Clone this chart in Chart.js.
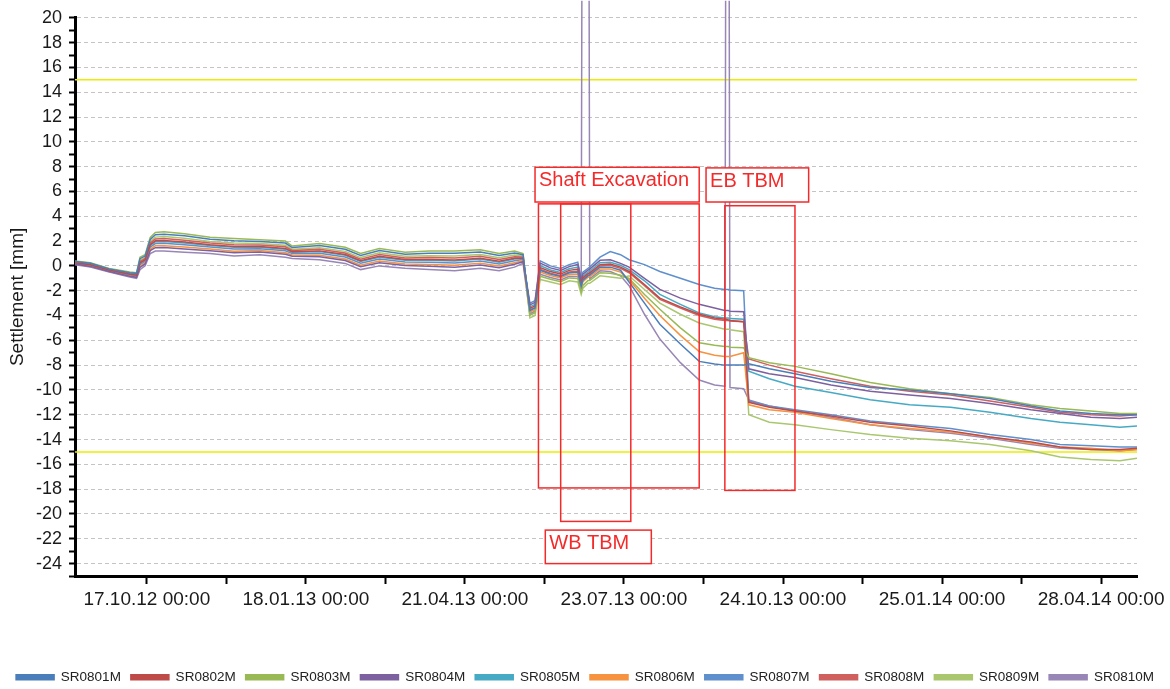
<!DOCTYPE html>
<html>
<head>
<meta charset="utf-8">
<script src="https://cdn.jsdelivr.net/npm/chart.js@4.4.1/dist/chart.umd.min.js"></script>
<style>
  html, body { margin: 0; padding: 0; background: #fff; }
</style>
</head>
<body>
<canvas id="chart" width="1170" height="689"></canvas>
<script>
// Reading dates (x) shared by all gauges
const dates = [
  '2012-09-05', '2012-09-14', '2012-09-25', '2012-10-07', '2012-10-11', '2012-10-13', '2012-10-16', '2012-10-19',
  '2012-10-22', '2012-10-27', '2012-11-08', '2012-11-23', '2012-12-07', '2012-12-22', '2013-01-06', '2013-01-10',
  '2013-01-26', '2013-02-10', '2013-02-19', '2013-03-02', '2013-03-17', '2013-03-31', '2013-04-15', '2013-04-30',
  '2013-05-11', '2013-05-20', '2013-05-25', '2013-05-29', '2013-06-01', '2013-06-04', '2013-06-10', '2013-06-16',
  '2013-06-21', '2013-06-26', '2013-06-28', '2013-06-29', '2013-07-02', '2013-07-03', '2013-07-09', '2013-07-15',
  '2013-07-21', '2013-07-26', '2013-08-04', '2013-08-13', '2013-08-25', '2013-09-05', '2013-09-14', '2013-09-20',
  '2013-09-21', '2013-09-22', '2013-09-23', '2013-10-01', '2013-10-04', '2013-10-16', '2013-10-31', '2013-11-21',
  '2013-12-14', '2014-01-06', '2014-01-30', '2014-02-22', '2014-03-18', '2014-04-04', '2014-04-22', '2014-05-09',
  '2014-05-19'
];

// Settlement [mm] per gauge
const sr0801 = [0.36, 0.21, -0.24, -0.55, -0.6, 0.58, 0.79, 2.14, 2.52, 2.56, 2.42, 2.14, 2.03, 1.96, 1.84, 1.48,
  1.64, 1.34, 0.84, 1.23, 0.94, 1.02, 1.01, 1.12, 0.83, 1.04, 0.9, -3.6, -3.4, -0.35, -0.65, -0.85,
  -0.55, -0.5, -1.65, -1.15, -0.8, -0.75, -0.1, -0.1, -0.35, -1.3, -3.0, -4.7, -6.3, -7.7, -7.9, -8.0,
  -8.0, -8.0, -8.0, -8.0, -7.9, -8.3, -8.7, -9.3, -9.8, -10.0, -10.3, -10.7, -11.3, -11.7, -11.9, -12.0, -12.0];
const sr0802 = [0.26, 0.09, -0.34, -0.68, -0.75, 0.25, 0.49, 1.71, 2.02, 2.05, 1.92, 1.71, 1.57, 1.56, 1.41, 1.15,
  1.21, 0.91, 0.41, 0.77, 0.51, 0.52, 0.48, 0.62, 0.37, 0.61, 0.64, -3.42, -3.22, -0.13, -0.46, -0.66,
  -0.36, -0.26, -1.46, -0.96, -0.62, -0.56, 0.1, 0.15, -0.1, -0.45, -1.5, -2.6, -3.3, -3.9, -4.2, -4.3,
  -4.3, -4.35, -4.4, -4.5, -11.0, -11.4, -11.7, -12.1, -12.6, -12.9, -13.3, -13.8, -14.2, -14.6, -14.8, -14.8, -14.7];
const sr0803 = [0.4, 0.25, -0.2, -0.5, -0.55, 0.7, 0.9, 2.3, 2.7, 2.75, 2.6, 2.3, 2.2, 2.1, 2.0, 1.6,
  1.8, 1.5, 1.0, 1.4, 1.1, 1.2, 1.2, 1.3, 1.0, 1.2, 1.0, -3.98, -3.78, -0.83, -1.07, -1.27,
  -0.97, -1.01, -2.07, -1.57, -1.18, -1.17, -0.55, -0.6, -0.75, -1.0, -2.3, -3.5, -5.0, -6.2, -6.4, -6.5,
  -6.5, -6.5, -6.55, -6.6, -7.4, -7.8, -8.1, -8.7, -9.4, -9.9, -10.3, -10.6, -11.2, -11.5, -11.7, -11.9, -11.9];
const sr0804 = [0.15, -0.04, -0.45, -0.83, -0.92, -0.12, 0.16, 1.23, 1.47, 1.48, 1.37, 1.23, 1.05, 1.12, 0.93, 0.78,
  0.73, 0.43, -0.07, 0.25, 0.03, -0.03, -0.11, 0.07, -0.15, 0.13, 0.34, -3.14, -2.94, 0.22, -0.16, -0.36,
  -0.06, 0.11, -1.16, -0.66, -0.34, -0.26, 0.45, 0.5, 0.2, -0.1, -1.0, -1.9, -2.6, -3.1, -3.4, -3.6,
  -3.6, -3.6, -3.65, -3.7, -8.3, -8.7, -9.0, -9.6, -10.1, -10.4, -10.7, -11.1, -11.6, -11.9, -12.2, -12.3, -12.2];
const sr0805 = [0.25, 0.07, -0.35, -0.7, -0.78, 0.2, 0.45, 1.65, 1.95, 1.97, 1.85, 1.65, 1.5, 1.5, 1.35, 1.1,
  1.15, 0.85, 0.35, 0.7, 0.45, 0.45, 0.4, 0.55, 0.3, 0.55, 0.6, -3.3, -3.1, 0.02, -0.33, -0.53,
  -0.23, -0.1, -1.33, -0.83, -0.5, -0.43, 0.25, 0.3, 0.05, -0.3, -1.2, -2.3, -3.1, -3.8, -4.1, -4.2,
  -4.2, -4.2, -4.25, -4.3, -8.5, -9.1, -9.7, -10.2, -10.8, -11.2, -11.4, -11.8, -12.3, -12.6, -12.8, -13.0, -12.9];
const sr0806 = [0.18, 0.0, -0.42, -0.79, -0.87, -0.02, 0.25, 1.36, 1.62, 1.63, 1.52, 1.36, 1.19, 1.24, 1.06, 0.88,
  0.86, 0.56, 0.06, 0.39, 0.16, 0.12, 0.05, 0.22, -0.01, 0.26, 0.42, -3.72, -3.52, -0.5, -0.78, -0.98,
  -0.68, -0.66, -1.78, -1.28, -0.92, -0.88, -0.25, -0.25, -0.5, -1.1, -2.6, -4.0, -5.6, -6.9, -7.2, -7.3,
  -7.3, -7.3, -7.3, -7.0, -11.2, -11.6, -11.8, -12.3, -12.8, -13.1, -13.4, -13.8, -14.3, -14.6, -14.7, -14.9, -14.8];
const sr0807 = [0.22, 0.04, -0.38, -0.74, -0.82, 0.1, 0.36, 1.52, 1.8, 1.82, 1.7, 1.52, 1.36, 1.38, 1.22, 1.0,
  1.02, 0.72, 0.22, 0.56, 0.32, 0.3, 0.24, 0.4, 0.16, 0.42, 0.52, -3.0, -2.8, 0.4, 0.0, -0.2,
  0.1, 0.3, -1.0, -0.5, -0.2, -0.1, 0.7, 1.15, 0.9, 0.5, 0.1, -0.45, -1.0, -1.5, -1.8, -1.9,
  -1.9, -1.9, -1.95, -2.0, -10.9, -11.3, -11.6, -12.0, -12.5, -12.8, -13.1, -13.6, -14.0, -14.4, -14.5, -14.6, -14.6];
const sr0808 = [0.3, 0.13, -0.3, -0.64, -0.71, 0.35, 0.58, 1.84, 2.17, 2.21, 2.07, 1.84, 1.71, 1.68, 1.54, 1.25,
  1.34, 1.04, 0.54, 0.91, 0.64, 0.67, 0.64, 0.77, 0.51, 0.74, 0.72, -3.54, -3.34, -0.28, -0.59, -0.79,
  -0.49, -0.42, -1.59, -1.09, -0.74, -0.69, 0.0, 0.05, -0.2, -0.55, -1.6, -2.7, -3.4, -4.0, -4.3, -4.4,
  -4.4, -4.4, -4.45, -4.5, -7.5, -8.0, -8.5, -9.1, -9.7, -10.1, -10.4, -10.9, -11.4, -11.8, -12.0, -12.1, -12.0];
const sr0809 = [0.32, 0.16, -0.28, -0.6, -0.66, 0.45, 0.67, 1.97, 2.32, 2.36, 2.22, 1.97, 1.85, 1.8, 1.67, 1.35,
  1.47, 1.17, 0.67, 1.05, 0.77, 0.82, 0.8, 0.92, 0.65, 0.87, 0.8, -4.2, -4.0, -1.1, -1.3, -1.5,
  -1.2, -1.3, -2.3, -1.8, -1.4, -1.4, -0.8, -0.9, -1.0, -0.8, -1.9, -3.0, -3.9, -4.6, -4.9, -5.1,
  -5.1, -5.1, -5.15, -5.3, -12.0, -12.6, -12.8, -13.2, -13.6, -13.9, -14.1, -14.4, -14.9, -15.4, -15.6, -15.7, -15.5];
const sr0810 = [0.1, -0.1, -0.5, -0.9, -1.0, -0.3, 0.0, 1.0, 1.2, 1.2, 1.1, 1.0, 0.8, 0.9, 0.7, 0.6,
  0.5, 0.2, -0.3, 0.0, -0.2, -0.3, -0.4, -0.2, -0.4, -0.1, 0.2, -3.86, -3.66, -0.68, -0.94, -1.14,
  -0.84, -0.85, -1.94, 60, 60, -1.04, -0.4, -0.45, -0.8, -1.6, -3.9, -5.9, -7.8, -9.2, -9.6, -9.7,
  60, 60, -9.8, -9.9, -10.8, -11.3, -11.7, -12.2, -12.8, -13.2, -13.5, -13.9, -14.4, -14.7, -14.8, -14.9, -14.8];

const seriesNames = ['SR0801M', 'SR0802M', 'SR0803M', 'SR0804M', 'SR0805M',
  'SR0806M', 'SR0807M', 'SR0808M', 'SR0809M', 'SR0810M'];
const seriesValues = [sr0801, sr0802, sr0803, sr0804, sr0805, sr0806, sr0807, sr0808, sr0809, sr0810];
const seriesColors = ['#4a7ebb', '#be4b48', '#98b954', '#7d60a0', '#46aac5',
  '#f69240', '#5f8fcc', '#d0605d', '#aac76f', '#9886b6'];

// Alarm limits [mm]
const limits = [15, -15];

// Labelled x ticks
const tickDates = ['2012-10-17', '2013-01-18', '2013-04-21', '2013-07-23', '2013-10-24', '2014-01-25', '2014-04-28'];

// Construction phases
const phaseBoxes = [
  { from: '2013-06-03', to: '2013-09-05', top: 5.0, bottom: -17.9 },
  { from: '2013-06-16', to: '2013-07-27', top: 5.0, bottom: -20.6 },
  { from: '2013-09-20', to: '2013-10-31', top: 4.85, bottom: -18.1 }
];
const phaseLabels = [
  { text: 'Shaft Excavation', from: '2013-06-01', to: '2013-09-05', top: 7.95, bottom: 5.15 },
  { text: 'EB TBM', from: '2013-09-09', to: '2013-11-08', top: 7.9, bottom: 5.15 },
  { text: 'WB TBM', from: '2013-06-07', to: '2013-08-08', top: -21.3, bottom: -24.0 }
];

const toX = s => Date.parse(s);
const xMin = toX('2012-09-05');
const xMax = toX('2014-05-19');
const majorTicks = tickDates.map(toX);
const halfStep = (majorTicks[1] - majorTicks[0]) / 2;
const FONT = "'Liberation Sans', Arial, sans-serif";
const RED = '#f42a2a';

const pad2 = n => String(n).padStart(2, '0');
function formatDate(ms) {
  const d = new Date(ms);
  return pad2(d.getUTCDate()) + '.' + pad2(d.getUTCMonth() + 1) + '.' +
    pad2(d.getUTCFullYear() % 100) + ' 00:00';
}

const datasets = seriesValues.map((vals, i) => ({
  label: seriesNames[i],
  data: dates.map((d, j) => ({ x: toX(d), y: vals[j] })),
  borderColor: seriesColors[i],
  backgroundColor: seriesColors[i],
  borderWidth: 1.5,
  pointRadius: 0,
  tension: 0,
  clip: i === 9 ? { left: 0, top: 17, right: 0, bottom: 0 } : undefined
}));

limits.forEach(v => {
  datasets.push({
    label: 'limit',
    data: [{ x: xMin, y: v }, { x: xMax, y: v }],
    borderColor: '#ecec00',
    borderWidth: 1.6,
    pointRadius: 0
  });
});

// Red phase boxes drawn on top of the lines
const phasePlugin = {
  id: 'phases',
  afterDatasetsDraw(chart) {
    const { ctx, scales: { x, y } } = chart;
    ctx.save();
    ctx.strokeStyle = RED;
    ctx.lineWidth = 1.5;
    phaseBoxes.forEach(b => {
      const x1 = x.getPixelForValue(toX(b.from));
      const x2 = x.getPixelForValue(toX(b.to));
      const y1 = y.getPixelForValue(b.top);
      const y2 = y.getPixelForValue(b.bottom);
      ctx.strokeRect(x1, y1, x2 - x1, y2 - y1);
    });
    ctx.font = '20px ' + FONT;
    ctx.textBaseline = 'alphabetic';
    phaseLabels.forEach(b => {
      const x1 = x.getPixelForValue(toX(b.from));
      const x2 = x.getPixelForValue(toX(b.to));
      const y1 = y.getPixelForValue(b.top);
      const y2 = y.getPixelForValue(b.bottom);
      ctx.fillStyle = '#fff';
      ctx.fillRect(x1, y1, x2 - x1, y2 - y1);
      ctx.strokeRect(x1, y1, x2 - x1, y2 - y1);
      ctx.fillStyle = RED;
      ctx.fillText(b.text, x1 + 4, y1 + 19);
    });
    ctx.restore();
  }
};

new Chart(document.getElementById('chart'), {
  type: 'line',
  data: { datasets },
  plugins: [phasePlugin],
  options: {
    responsive: false,
    animation: false,
    parsing: true,
    layout: { padding: { left: 0, top: 17, right: 0, bottom: -5 } },
    plugins: {
      tooltip: { enabled: false },
      legend: {
        position: 'bottom',
        labels: {
          boxWidth: 38,
          boxHeight: 5,
          padding: 10,
          color: '#222',
          font: { family: FONT, size: 13.5 },
          filter: item => item.datasetIndex < seriesNames.length
        }
      }
    },
    scales: {
      x: {
        type: 'linear',
        min: xMin,
        max: xMax,
        afterBuildTicks(scale) {
          const list = [];
          majorTicks.forEach(t => {
            list.push(t);
            if (t + halfStep < xMax) list.push(t + halfStep);
          });
          scale.ticks = list.sort((a, b) => a - b).map(v => ({ value: v }));
        },
        afterFit(scale) { scale.height = 84.5; },
        ticks: {
          autoSkip: false,
          maxRotation: 0,
          padding: 4,
          color: '#1a1a1a',
          font: { family: FONT, size: 19 },
          callback: v => majorTicks.includes(v) ? formatDate(v) : ''
        },
        grid: {
          drawOnChartArea: false,
          tickColor: '#000',
          tickLength: 8,
          tickWidth: 2
        },
        border: { color: '#000', width: 3 }
      },
      y: {
        min: -25,
        max: 20,
        afterFit(scale) { scale.width = 75; },
        title: {
          display: true,
          text: 'Settlement [mm]',
          color: '#1a1a1a',
          font: { family: FONT, size: 19 },
          padding: { top: 6, bottom: 0 }
        },
        ticks: {
          stepSize: 1,
          autoSkip: false,
          padding: 7,
          color: '#1a1a1a',
          font: { family: FONT, size: 18 },
          callback: v => (v % 2 === 0 ? String(v) : '')
        },
        grid: {
          color: c => (c.tick && c.tick.value % 2 === 0) ? '#c4c4c4' : 'rgba(0,0,0,0)',
          lineWidth: 1,
          tickColor: '#000',
          tickLength: 6,
          tickWidth: 2
        },
        border: { color: '#000', width: 3, dash: [4, 3] }
      },
      yRight: {
        position: 'right',
        min: -25,
        max: 20,
        afterFit(scale) { scale.width = 33; },
        ticks: { display: false },
        grid: { display: false, drawTicks: false },
        border: { display: false }
      }
    }
  }
});
</script>
</body>
</html>
